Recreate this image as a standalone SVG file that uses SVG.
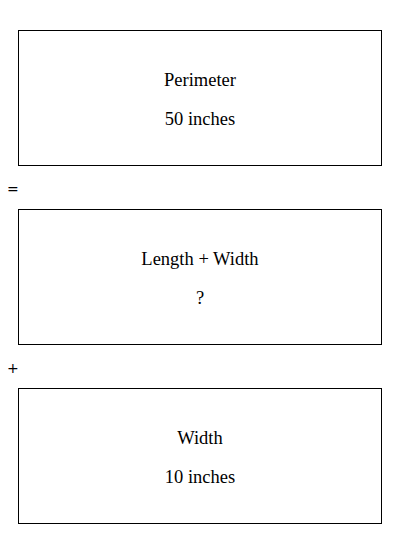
<svg xmlns="http://www.w3.org/2000/svg" width="400" height="534" viewBox="0 0 400 534">
<style>
.box{fill:#fff;stroke:#000;stroke-width:1}
.t{font-family:"Liberation Serif","DejaVu Serif",serif;font-size:18.5px;fill:#000;text-anchor:middle}
.op{font-family:"DejaVu Sans","Liberation Sans",sans-serif;font-size:14px;fill:#000}
</style>
<rect width="400" height="534" fill="#fff"/>
<g id="perimeter">
<rect class="box" x="18.5" y="30.5" width="363" height="135"/>
<text class="t" x="200" y="85.5">Perimeter</text>
<text class="t" x="200" y="124.5">50 inches</text>
</g>
<g id="connectors">
<text class="op" x="7" y="194">=</text>
<text class="op" x="7" y="373">+</text>
</g>
<g id="lengthwidth">
<rect class="box" x="18.5" y="209.5" width="363" height="135"/>
<text class="t" x="200" y="264.5">Length + Width</text>
<text class="t" x="200" y="303.5">?</text>
</g>
<g id="width">
<rect class="box" x="18.5" y="388.5" width="363" height="135"/>
<text class="t" x="200" y="443.5">Width</text>
<text class="t" x="200" y="482.5">10 inches</text>
</g>
</svg>
